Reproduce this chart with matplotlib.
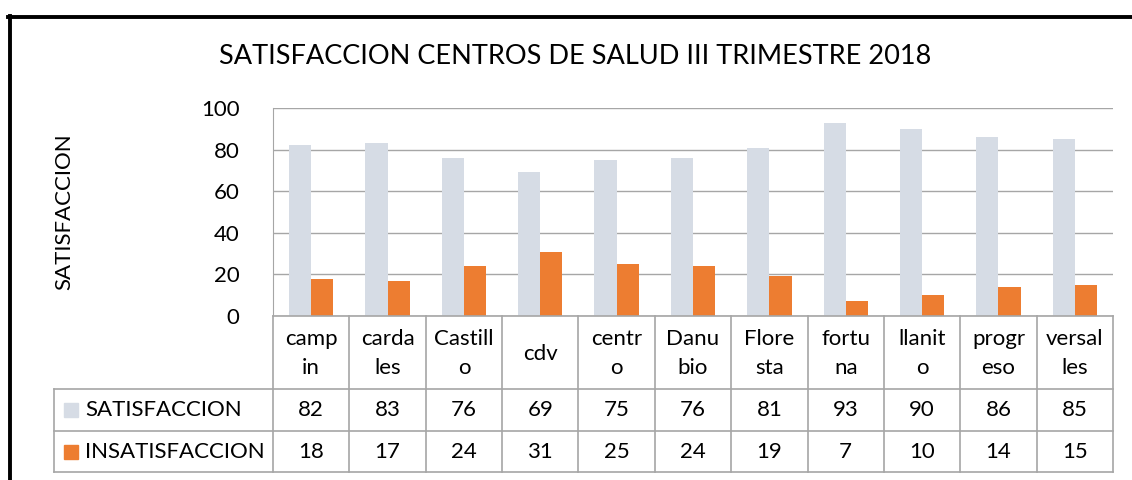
import matplotlib.pyplot as plt
from matplotlib.lines import Line2D
from matplotlib.patches import Rectangle
import numpy as np

plt.rcParams['font.family'] = ['Lato', 'DejaVu Sans']

centros = ["camp\nin", "carda\nles", "Castill\no", "cdv", "centr\no", "Danu\nbio",
           "Flore\nsta", "fortu\nna", "llanit\no", "progr\neso", "versal\nles"]
satisfaccion = [82, 83, 76, 69, 75, 76, 81, 93, 90, 86, 85]
insatisfaccion = [18, 17, 24, 31, 25, 24, 19, 7, 10, 14, 15]
series_names = ["SATISFACCION", "INSATISFACCION"]
colors = ["#D6DCE5", "#ED7D31"]

W, H = 1132, 480
fig = plt.figure(figsize=(W / 100, H / 100), dpi=100)

# plot area in pixels (left, top, right, bottom)
pl, pt, pr, pb = 273, 108, 1113, 316
ax = fig.add_axes([pl / W, 1 - pb / H, (pr - pl) / W, (pb - pt) / H])

x = np.arange(len(centros))
bw = 0.29
ax.bar(x - bw / 2, satisfaccion, bw, color=colors[0], zorder=2)
ax.bar(x + bw / 2, insatisfaccion, bw, color=colors[1], zorder=2)

ax.set_xlim(-0.5, len(centros) - 0.5)
ax.set_ylim(0, 100)
ax.set_yticks(range(0, 101, 20))
ax.yaxis.grid(True, color="#A6A6A6", linewidth=1.0, zorder=0)
ax.tick_params(axis="y", length=0, labelsize=16, pad=24)
ax.tick_params(axis="x", length=0, labelbottom=False)
for s in ["top", "right", "bottom"]:
    ax.spines[s].set_visible(False)
ax.spines["left"].set_color("#A6A6A6")
ax.set_ylabel("SATISFACCION", fontsize=16, labelpad=91)

fig.text(0.508, 1 - 57 / H, "SATISFACCION CENTROS DE SALUD III TRIMESTRE 2018",
         ha="center", va="center", fontsize=19.5)

# data table below the plot (pixel rows)
line_c = "#A6A6A6"
row_y = [316, 389, 431, 472]
table_left = 54
colw = (pr - pl) / len(centros)

def fx(px):
    return px / W

def fy(py):
    return 1 - py / H

# horizontal lines
fig.add_artist(Line2D([fx(pl), fx(pr)], [fy(row_y[0])] * 2, color=line_c, lw=1.2))
for yy in row_y[1:]:
    fig.add_artist(Line2D([fx(table_left), fx(pr)], [fy(yy)] * 2, color=line_c, lw=1.2))
# vertical lines
fig.add_artist(Line2D([fx(table_left)] * 2, [fy(row_y[1]), fy(row_y[3])], color=line_c, lw=1.2))
for i in range(len(centros) + 1):
    xx = pl + i * colw
    fig.add_artist(Line2D([fx(xx)] * 2, [fy(row_y[0]), fy(row_y[3])], color=line_c, lw=1.2))

for i, name in enumerate(centros):
    cx = pl + (i + 0.5) * colw
    fig.text(fx(cx), fy((row_y[0] + row_y[1]) / 2 + 1), name, ha="center", va="center",
             fontsize=16, linespacing=1.55)
    fig.text(fx(cx), fy((row_y[1] + row_y[2]) / 2), str(satisfaccion[i]),
             ha="center", va="center", fontsize=16)
    fig.text(fx(cx), fy((row_y[2] + row_y[3]) / 2), str(insatisfaccion[i]),
             ha="center", va="center", fontsize=16)

for j, (nm, c) in enumerate(zip(series_names, colors)):
    cy = (row_y[j + 1] + row_y[j + 2]) / 2
    fig.add_artist(Rectangle((fx(64), fy(cy + 7)), 14 / W, 14 / H, color=c))
    fig.text(fx(85), fy(cy), nm, ha="left", va="center", fontsize=16)

# outer chart frame (partially visible)
fig.add_artist(Line2D([fx(9.5), fx(9.5)], [fy(16), 0], color="black", lw=2.8))
fig.add_artist(Line2D([fx(8), 1], [fy(16.5), fy(16.5)], color="black", lw=2.8))

fig.savefig("out.png", dpi=100)
